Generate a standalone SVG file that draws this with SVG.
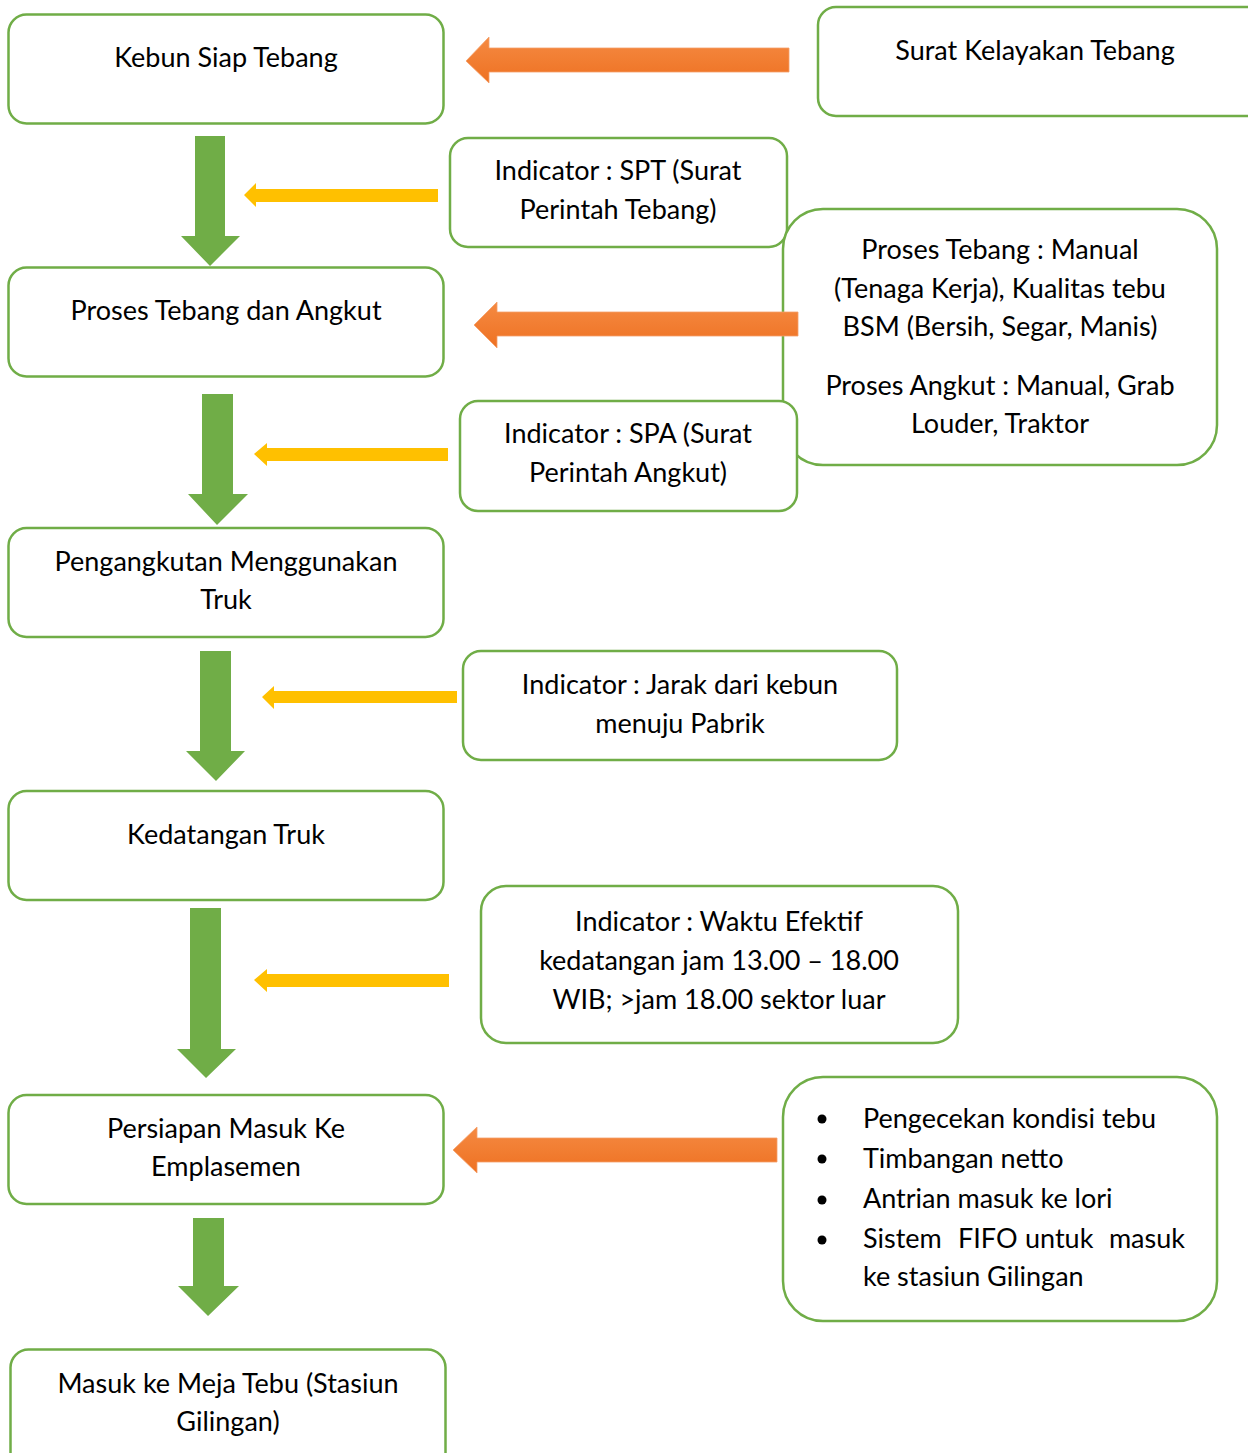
<svg xmlns="http://www.w3.org/2000/svg" width="1248" height="1453" viewBox="0 0 1248 1453">
<defs>
<linearGradient id="og" x1="0" y1="0" x2="0" y2="1">
<stop offset="0" stop-color="#F58A42"/>
<stop offset="1" stop-color="#EE7122"/>
</linearGradient>
<style>
.box{fill:#fff;stroke:#70AD47;stroke-width:2.5}
.t{font-family:Lato,"Open Sans","Liberation Sans",sans-serif;font-size:27px;fill:#000;text-anchor:middle}
.l{text-anchor:start}
.g{fill:#70AD47}
.y{fill:#FFC000}
.o{fill:url(#og);stroke:#F4A06A;stroke-width:0.8}
</style>
</defs>
<rect width="1248" height="1453" fill="#fff"/>
<g id="n1"><rect class="box" x="8.5" y="14.5" width="435" height="109" rx="18"/><text class="t" x="226" y="67">Kebun Siap Tebang</text></g>
<g id="n2"><rect class="box" x="8.5" y="267.5" width="435" height="109" rx="18"/><text class="t" x="226" y="320">Proses Tebang dan Angkut</text></g>
<g id="n3"><rect class="box" x="8.5" y="528" width="435" height="109" rx="18"/><text class="t" x="226" y="571">Pengangkutan Menggunakan</text><text class="t" x="226" y="609">Truk</text></g>
<g id="n4"><rect class="box" x="8.5" y="791" width="435" height="109" rx="18"/><text class="t" x="226" y="844">Kedatangan Truk</text></g>
<g id="n5"><rect class="box" x="8.5" y="1095" width="435" height="109" rx="18"/><text class="t" x="226" y="1138">Persiapan Masuk Ke</text><text class="t" x="226" y="1176">Emplasemen</text></g>
<g id="n6"><rect class="box" x="10.5" y="1349.5" width="435" height="130" rx="18"/><text class="t" x="228" y="1393">Masuk ke Meja Tebu (Stasiun</text><text class="t" x="228" y="1431">Gilingan)</text></g>
<g id="s1"><rect class="box" x="818" y="7" width="450" height="109" rx="18"/><text class="t" x="1035" y="60">Surat Kelayakan Tebang</text></g>
<g id="s2"><rect class="box" x="450" y="138" width="337" height="109" rx="18"/><text class="t" x="618" y="180">Indicator : SPT (Surat</text><text class="t" x="618" y="219">Perintah Tebang)</text></g>
<g id="s3"><rect class="box" x="783" y="209" width="434" height="256" rx="40"/><text class="t" x="1000" y="259">Proses Tebang : Manual</text><text class="t" x="1000" y="298">(Tenaga Kerja), Kualitas tebu</text><text class="t" x="1000" y="336">BSM (Bersih, Segar, Manis)</text><text class="t" x="1000" y="395">Proses Angkut : Manual, Grab</text><text class="t" x="1000" y="433">Louder, Traktor</text></g>
<g id="s4"><rect class="box" x="460" y="401" width="337" height="110" rx="18"/><text class="t" x="628" y="443">Indicator : SPA (Surat</text><text class="t" x="628" y="482">Perintah Angkut)</text></g>
<g id="s5"><rect class="box" x="463" y="651" width="434" height="109" rx="18"/><text class="t" x="680" y="694">Indicator : Jarak dari kebun</text><text class="t" x="680" y="733">menuju Pabrik</text></g>
<g id="s6"><rect class="box" x="481" y="886" width="477" height="157" rx="25"/><text class="t" x="719" y="931">Indicator : Waktu Efektif</text><text class="t" x="719" y="970">kedatangan jam 13.00 – 18.00</text><text class="t" x="719" y="1009">WIB; &gt;jam 18.00 sektor luar</text></g>
<g id="s7"><rect class="box" x="783" y="1077" width="434" height="244" rx="40"/>
<circle cx="822" cy="1119" r="4.5"/><circle cx="822" cy="1159" r="4.5"/><circle cx="822" cy="1200" r="4.5"/><circle cx="822" cy="1240" r="4.5"/>
<text class="t l" x="863" y="1128">Pengecekan kondisi tebu</text>
<text class="t l" x="863" y="1168">Timbangan netto</text>
<text class="t l" x="863" y="1208">Antrian masuk ke lori</text>
<text class="t l" x="863" y="1248">Sistem</text><text class="t l" x="958" y="1248">FIFO</text><text class="t l" x="1025" y="1248">untuk</text><text class="t" x="1185" y="1248" style="text-anchor:end">masuk</text>
<text class="t l" x="863" y="1286">ke stasiun Gilingan</text></g>
<g id="connectors">
<polygon class="g" points="195,136 225,136 225,236 240,236 210,266 181,236 195,236"/>
<polygon class="g" points="202,394 233,394 233,494 248,494 217,525 188,494 202,494"/>
<polygon class="g" points="200,651 231,651 231,751 245,751 216,781 186,751 200,751"/>
<polygon class="g" points="190,908 221,908 221,1049 236,1049 206,1078 177,1049 190,1049"/>
<polygon class="g" points="193,1218 224,1218 224,1286 239,1286 208,1316 178,1286 193,1286"/>
<polygon class="y" points="438,189 438,202 256,202 256,207 244,195 256,183 256,189"/>
<polygon class="y" points="448,448 448,461 267,461 267,466 254,454 267,443 267,448"/>
<polygon class="y" points="457,691 457,703 274,703 274,709 262,697 274,686 274,691"/>
<polygon class="y" points="449,974 449,987 267,987 267,992 254,980 267,969 267,974"/>
<polygon class="o" points="789,48 789,72 489,72 489,83 466,61 489,37 489,48"/>
<polygon class="o" points="798,312 798,336 497,336 497,348 474,325 497,302 497,312"/>
<polygon class="o" points="777,1138 777,1162 477,1162 477,1173 453,1150 477,1127 477,1138"/>
</g>
</svg>
